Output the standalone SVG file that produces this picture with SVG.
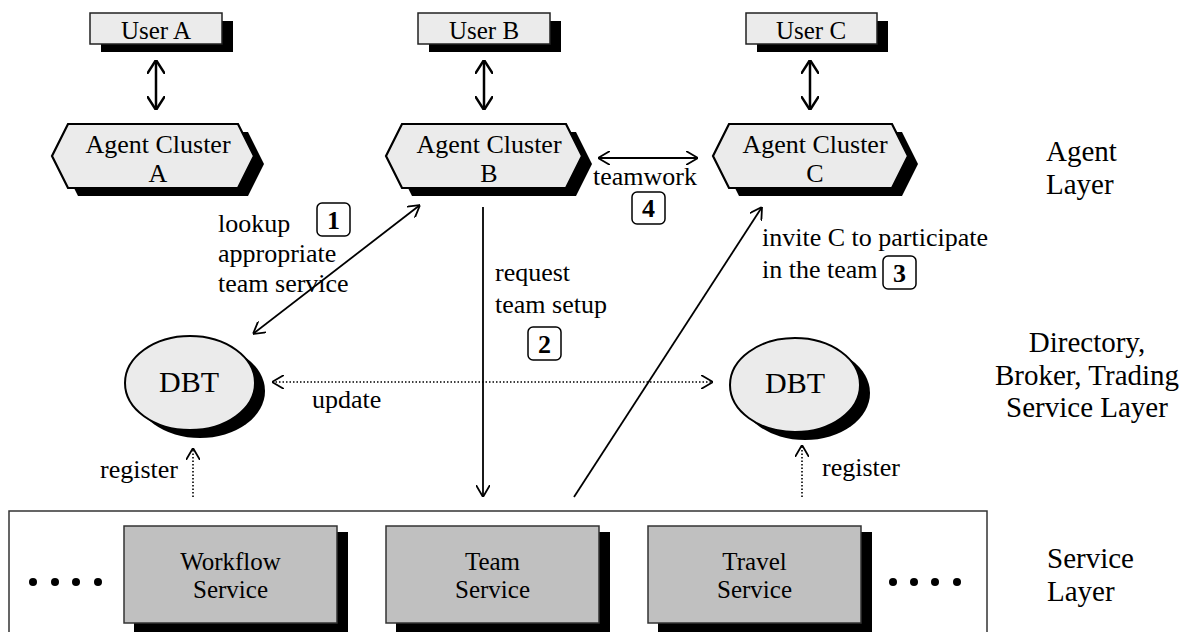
<svg xmlns="http://www.w3.org/2000/svg" width="1189" height="632" viewBox="0 0 1189 632">
<defs>
<style>
text{font-family:"Liberation Serif","Times New Roman",serif;fill:#000}
.lbl{font-size:26px}
.lay{font-size:29px}
.num{font-size:26px;font-weight:bold;text-anchor:middle}
.mid{text-anchor:middle}
.user{fill:#ebebeb;stroke:#222;stroke-width:1.5}
.hex{fill:#ebebeb;stroke:#000;stroke-width:2.2}
.shadow{fill:#000;stroke:none}
.svc{fill:#c0c0c0;stroke:#333;stroke-width:1.5}
.nbox{fill:#fff;stroke:#000;stroke-width:1.5}
.ln{stroke:#000;stroke-width:1.8;fill:none}
.thick{stroke:#000;stroke-width:2.5;fill:none}
.dot{stroke:#000;stroke-width:1.6;fill:none;stroke-dasharray:1.5 2}
</style>
<marker id="ah" viewBox="0 0 12 14" refX="12" refY="7" markerWidth="12" markerHeight="14" markerUnits="userSpaceOnUse" orient="auto-start-reverse">
<path d="M0,0 L12,7 L0,14" fill="none" stroke="#000" stroke-width="1.8"/>
</marker>
<marker id="ahb" viewBox="0 0 14 18" refX="14" refY="9" markerWidth="14" markerHeight="18" markerUnits="userSpaceOnUse" orient="auto-start-reverse">
<path d="M0,0 L14,9 L0,18" fill="none" stroke="#000" stroke-width="2.5"/>
</marker>
</defs>
<rect width="1189" height="632" fill="#fff"/>

<g id="service-layer-box">
<rect x="9" y="511" width="978" height="130" fill="none" stroke="#333" stroke-width="1.5"/>
<g fill="#000">
<circle cx="33" cy="582" r="4"/><circle cx="55" cy="582" r="4"/><circle cx="76" cy="582" r="4"/><circle cx="98" cy="582" r="4"/>
<circle cx="893" cy="582" r="4"/><circle cx="914" cy="582" r="4"/><circle cx="935" cy="582" r="4"/><circle cx="957" cy="582" r="4"/>
</g>
</g>

<g id="user-a">
<rect class="shadow" x="101" y="21" width="132" height="31"/>
<rect class="user" x="90" y="13" width="132" height="31"/>
<text class="lbl mid" x="156" y="39" style="font-size:25px">User A</text>
</g>
<g id="user-b">
<rect class="shadow" x="429" y="21" width="132" height="31"/>
<rect class="user" x="418" y="13" width="132" height="31"/>
<text class="lbl mid" x="484" y="39" style="font-size:25px">User B</text>
</g>
<g id="user-c">
<rect class="shadow" x="757" y="21" width="131" height="31"/>
<rect class="user" x="746" y="13" width="131" height="31"/>
<text class="lbl mid" x="811" y="39" style="font-size:25px">User C</text>
</g>

<g id="agent-cluster-a">
<polygon class="shadow" points="62,164 78,132 248,132 264,164 248,196 78,196"/>
<polygon class="hex" points="52,156 68,124 238,124 254,156 238,188 68,188"/>
<text class="lbl mid" x="158" y="153">Agent Cluster</text>
<text class="lbl mid" x="158" y="182">A</text>
</g>
<g id="agent-cluster-b">
<polygon class="shadow" points="396,164 412,132 576,132 592,164 576,196 412,196"/>
<polygon class="hex" points="386,156 402,124 566,124 582,156 566,188 402,188"/>
<text class="lbl mid" x="489" y="153">Agent Cluster</text>
<text class="lbl mid" x="489" y="182">B</text>
</g>
<g id="agent-cluster-c">
<polygon class="shadow" points="723,164 739,132 902,132 918,164 902,196 739,196"/>
<polygon class="hex" points="713,156 729,124 892,124 908,156 892,188 729,188"/>
<text class="lbl mid" x="815" y="153">Agent Cluster</text>
<text class="lbl mid" x="815" y="182">C</text>
</g>

<g id="dbt-left">
<ellipse class="shadow" cx="200" cy="391" rx="65" ry="47"/>
<ellipse cx="190" cy="383" rx="65" ry="47" fill="#ebebeb" stroke="#000" stroke-width="2"/>
<text class="mid" x="189" y="392" style="font-size:30px">DBT</text>
</g>
<g id="dbt-right">
<ellipse class="shadow" cx="805" cy="393" rx="65" ry="47"/>
<ellipse cx="795" cy="385" rx="65" ry="47" fill="#ebebeb" stroke="#000" stroke-width="2"/>
<text class="mid" x="795" y="393" style="font-size:30px">DBT</text>
</g>

<g id="workflow-service">
<rect class="shadow" x="134" y="532" width="214" height="100"/>
<rect class="svc" x="124" y="526" width="213" height="97"/>
<text class="mid" x="230.5" y="570" style="font-size:25px">Workflow</text>
<text class="mid" x="230.5" y="598" style="font-size:25px">Service</text>
</g>
<g id="team-service">
<rect class="shadow" x="396" y="532" width="214" height="100"/>
<rect class="svc" x="386" y="526" width="213" height="97"/>
<text class="mid" x="492.5" y="570" style="font-size:25px">Team</text>
<text class="mid" x="492.5" y="598" style="font-size:25px">Service</text>
</g>
<g id="travel-service">
<rect class="shadow" x="658" y="532" width="214" height="100"/>
<rect class="svc" x="648" y="526" width="213" height="97"/>
<text class="mid" x="754.5" y="570" style="font-size:25px">Travel</text>
<text class="mid" x="754.5" y="598" style="font-size:25px">Service</text>
</g>

<g id="connectors">
<line class="thick" x1="156" y1="60" x2="156" y2="110" marker-start="url(#ahb)" marker-end="url(#ahb)"/>
<line class="thick" x1="484" y1="60" x2="484" y2="110" marker-start="url(#ahb)" marker-end="url(#ahb)"/>
<line class="thick" x1="810" y1="60" x2="810" y2="110" marker-start="url(#ahb)" marker-end="url(#ahb)"/>
<line class="ln" x1="598" y1="158" x2="698" y2="158" marker-start="url(#ah)" marker-end="url(#ah)"/>
<line class="ln" x1="253" y1="334" x2="420" y2="205" marker-start="url(#ah)" marker-end="url(#ah)"/>
<line class="ln" x1="483" y1="207" x2="483" y2="497" marker-end="url(#ah)"/>
<line class="ln" x1="574" y1="497" x2="762" y2="207" marker-end="url(#ah)"/>
<line class="dot" x1="272" y1="382" x2="713" y2="382" marker-start="url(#ah)" marker-end="url(#ah)"/>
<line class="dot" x1="193" y1="497" x2="193" y2="448" marker-end="url(#ah)"/>
<line class="dot" x1="802" y1="497" x2="802" y2="445" marker-end="url(#ah)"/>
</g>

<g id="labels">
<text class="lbl" x="218" y="232">lookup</text>
<text class="lbl" x="218" y="262">appropriate</text>
<text class="lbl" x="218" y="292">team service</text>
<rect class="nbox" x="317" y="203" width="33" height="33" rx="5"/>
<text class="num" x="333.5" y="229">1</text>

<text class="lbl" x="495" y="281">request</text>
<text class="lbl" x="495" y="313">team setup</text>
<rect class="nbox" x="528" y="327" width="33" height="33" rx="5"/>
<text class="num" x="544.5" y="353">2</text>

<text class="lbl" x="762" y="246">invite C to participate</text>
<text class="lbl" x="762" y="278">in the team</text>
<rect class="nbox" x="883" y="256" width="33" height="33" rx="5"/>
<text class="num" x="899.5" y="282">3</text>

<text class="lbl" x="593" y="185">teamwork</text>
<rect class="nbox" x="632" y="192" width="33" height="32" rx="5"/>
<text class="num" x="648.5" y="217">4</text>

<text class="lbl" x="312" y="408">update</text>
<text class="lbl" x="100" y="478">register</text>
<text class="lbl" x="822" y="476">register</text>

<text class="lay" x="1046" y="161">Agent</text>
<text class="lay" x="1046" y="194">Layer</text>
<text class="lay mid" x="1087" y="352">Directory,</text>
<text class="lay mid" x="1087" y="385">Broker, Trading</text>
<text class="lay mid" x="1087" y="417">Service Layer</text>
<text class="lay" x="1047" y="568">Service</text>
<text class="lay" x="1047" y="601">Layer</text>
</g>
</svg>
